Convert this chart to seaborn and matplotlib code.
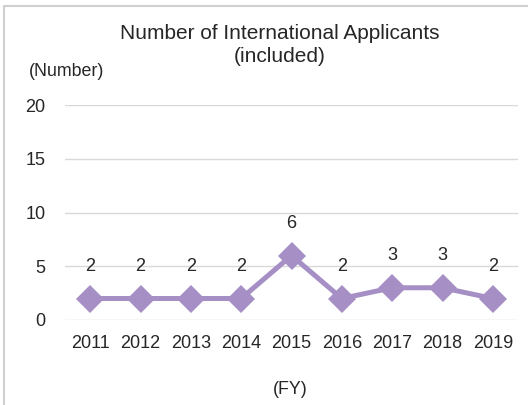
import matplotlib
matplotlib.use("Agg")
import matplotlib.pyplot as plt
import seaborn as sns
import pandas as pd
from matplotlib.lines import Line2D

# Data
years = ["2011", "2012", "2013", "2014", "2015", "2016", "2017", "2018", "2019"]
applicants = [2, 2, 2, 2, 6, 2, 3, 3, 2]
y_ticks = [0, 5, 10, 15, 20]

df = pd.DataFrame({"year": years, "count": applicants})

sns.set_style("white")
plt.rcParams["font.family"] = ["Liberation Sans", "DejaVu Sans"]

color = "#a58fc5"
text_color = "#262626"

fig = plt.figure(figsize=(5.28, 4.05), dpi=100)
ax = fig.add_axes([65 / 528, 1 - 320 / 405, (518 - 65) / 528, (320 - 105) / 405])

sns.lineplot(data=df, x="year", y="count", ax=ax, color=color, linewidth=3.6,
             marker="D", markersize=14, markeredgewidth=0, sort=False)

ax.set_xlim(-0.5, len(years) - 0.5)
ax.set_ylim(0, 20)
ax.set_yticks(y_ticks)
ax.grid(axis="y", color="#d9d9d9", linewidth=1)
ax.set_axisbelow(True)
for s in ax.spines.values():
    s.set_visible(False)
ax.tick_params(axis="both", length=0, labelsize=13, colors=text_color)
ax.tick_params(axis="y", pad=14)
ax.tick_params(axis="x", pad=11)
ax.set_xlabel("")
ax.set_ylabel("")

# Data labels
for i, v in enumerate(applicants):
    ax.annotate(str(v), (i, v), xytext=(0, 23), textcoords="offset points",
                ha="center", va="center", fontsize=13, color=text_color)

# Titles / axis units
fig.text(280 / 528, 1 - 45 / 405, "Number of International Applicants\n(included)",
         ha="center", va="center", fontsize=15, color=text_color, linespacing=1.25)
fig.text(67 / 528, 1 - 72 / 405, "(Number)", ha="center", va="center",
         fontsize=12.8, color=text_color)
fig.text(290 / 528, 1 - 389 / 405, "(FY)", ha="center", va="center",
         fontsize=12.8, color=text_color)

# Chart frame (only top and left edges visible)
fig.add_artist(Line2D([4 / 528, 4 / 528], [0, 1 - 6 / 405], transform=fig.transFigure,
                      color="#d0d0d0", linewidth=1.5))
fig.add_artist(Line2D([4 / 528, 1], [1 - 6 / 405, 1 - 6 / 405], transform=fig.transFigure,
                      color="#d0d0d0", linewidth=1.5))

fig.savefig("out.png", dpi=100)
